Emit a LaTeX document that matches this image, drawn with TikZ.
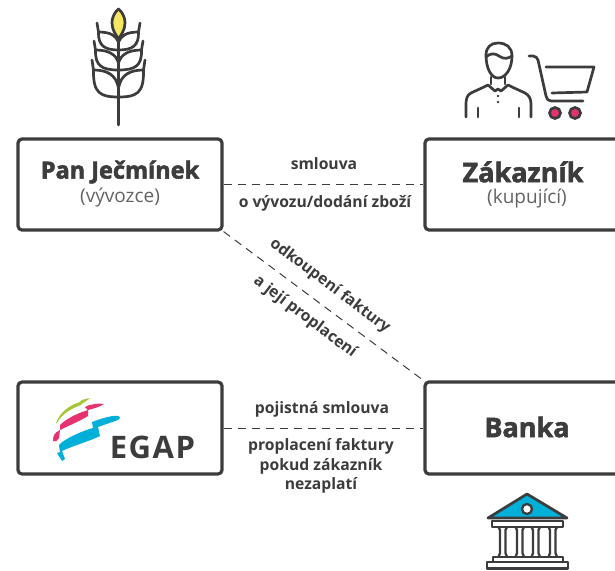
\documentclass[tikz,border=0pt]{standalone}
\usepackage{fontspec}
\setmainfont{Open Sans}
\newcommand{\heavy}[1]{\special{pdf:code 2 Tr 0.55 w 0.235 0.235 0.235 RG}#1\special{pdf:code 0 Tr}}
\definecolor{ink}{HTML}{3C3C3C}
\definecolor{wheatY}{HTML}{F5E663}
\definecolor{cartP}{HTML}{E6326E}
\definecolor{bankC}{HTML}{00B0D8}
\definecolor{logoG}{HTML}{A4C639}
\tikzset{
  box/.style={draw=ink,line width=3.2pt,rounded corners=4pt,inner sep=0pt,fill=white},
  dashline/.style={draw=ink,line width=1pt,dash pattern=on 8pt off 6pt},
  lbl/.style={text=ink,font=\fontsize{15.7}{17}\selectfont\bfseries,inner sep=0pt,align=center},
  ttl/.style={text=ink,font=\fontsize{23.5}{26}\selectfont\bfseries,inner sep=0pt},
  sub/.style={text=ink!80,font=\fontsize{19}{21}\selectfont,inner sep=0pt},
  ico/.style={draw=ink,line width=2.7pt,line cap=round,line join=round}
}
\begin{document}
\begin{tikzpicture}[x=1pt,y=-1pt]
\useasboundingbox (0,0) rectangle (615,570);
\clip (0,0) rectangle (615,570);
% boxes
\node[box,minimum width=204pt,minimum height=91pt] (pan) at (120,184.5) {};
\node[box,minimum width=204pt,minimum height=91pt] (zak) at (527,184.5) {};
\node[box,minimum width=204pt,minimum height=92pt] (egap) at (120,428) {};
\node[box,minimum width=204pt,minimum height=92pt] (ban) at (527,428) {};
% connectors
\draw[dashline] (pan.east) -- (zak.west);
\draw[dashline] (pan.south east) -- (ban.north west);
\draw[dashline] (egap.east) -- (ban.west);
% titles
\node[ttl] (t1) at (120,172) {\heavy{Pan Ječmínek}};
\node[sub] (s1) at (120,198) {(vývozce)};
\node[ttl,font=\fontsize{27}{30}\selectfont\bfseries] (t2) at (523,172) {\heavy{Zákazník}};
\node[sub] (s2) at (527,199) {(kupující)};
\node[ttl,font=\fontsize{27}{30}\selectfont\bfseries] (t3) at (527,427) {\heavy{Banka}};
% labels
\node[lbl] (l1) at (324,164) {smlouva};
\node[lbl] (l2) at (325,203) {o vývozu/dodání zboží};
\node[lbl] (l3) at (330,286) [rotate=-37] {odkoupení faktury};
\node[lbl] (l4) at (305,317) [rotate=-37] {a její proplacení};
\node[lbl] (l5) at (322,409) {pojistná smlouva};
\node[lbl,font=\fontsize{15.7}{19.5}\selectfont\bfseries] (l6) at (321,466) {proplacení faktury\\pokud zákazník\\nezaplatí};
% wheat
\draw[ico,fill=wheatY] (118.5,9) .. controls (113,14) and (112,19) .. (112,23) .. controls (112,30) and (116,35) .. (118.5,39) .. controls (121,35) and (125,30) .. (125,23) .. controls (125,19) and (124,14) .. (118.5,9) -- cycle;
\draw[ico] (118.5,39) -- (118.5,125);
\foreach \ty/\tx/\upy/\loy/\by in {23/97/32/42/50,41/94/50/63/70,60/92/70/88/97}{
  \draw[ico] (\tx,\ty) -- (\tx+1.5,\upy) .. controls (\tx+1,\by-4) and (\tx+8,\by) .. (118.5,\by);
  \draw[ico] (\tx+1.5,\upy) .. controls (\tx+14,\upy) and (116,\upy+4) .. (118.5,\loy);
  \draw[ico] (237-\tx,\ty) -- (235.5-\tx,\upy) .. controls (236-\tx,\by-4) and (229-\tx,\by) .. (118.5,\by);
  \draw[ico] (235.5-\tx,\upy) .. controls (223-\tx,\upy) and (121,\upy+4) .. (118.5,\loy);
}
% person
\draw[ico] (486,55) .. controls (486,47) and (491,43) .. (498,43) .. controls (506,43) and (512,47) .. (512,56) .. controls (512,68) and (506,78) .. (498,78) .. controls (491,78) and (486,68) .. (486,55) -- cycle;
\draw[ico] (486,57) .. controls (490,53) and (495,53) .. (499,56) .. controls (504,60) and (509,58) .. (512,56);
\draw[ico] (491,77) -- (491,84) (505,77) -- (505,84);
\draw[ico] (488,85) -- (495,91) -- (498,89) -- (501,91) -- (508,85);
\draw[ico] (488,85) .. controls (480,89) and (475,91) .. (471,93) .. controls (467,95) and (466,99) .. (466,104) -- (466,117);
\draw[ico] (508,85) .. controls (516,89) and (521,91) .. (525,93) .. controls (529,95) and (531,99) .. (531,104) -- (531,117);
\draw[ico] (478,108) -- (478,117) (519,108) -- (519,117);
\fill[ink] (498,96) circle (1.3) (498,102) circle (1.3);
% cart
\draw[ico] (529,56) -- (533,56) .. controls (536,56) and (537,58) .. (538,60) -- (546,96) .. controls (547,99) and (548,101) .. (551,101) -- (583,101);
\draw[ico] (546,67) -- (594,67) -- (587,92) -- (552,93);
\draw[ink,line width=2.7pt,fill=cartP] (555,113) circle (5.5);
\draw[ink,line width=2.7pt,fill=cartP] (575,113) circle (5.5);
% bank
\draw[ico,fill=bankC] (527,494) -- (488,518) -- (567,518) -- cycle;
\draw[ink,line width=2.3pt,fill=white] (527,509) circle (5);
\draw[ico,fill=white,line width=2.3pt] (492,521) rectangle (563,527);
\foreach \cx in {503,520,536,553}{
  \draw[ico,line width=2.3pt] (\cx-4.5,527) -- (\cx-3,530) -- (\cx-3,553) -- (\cx-4.5,557) (\cx+4,527) -- (\cx+2.5,530) -- (\cx+2.5,553) -- (\cx+4,557);
}
\draw[ico,line width=2.3pt,fill=white] (493,557) rectangle (563,562);
\draw[ico,line width=2.3pt,fill=white] (487,562) rectangle (568,568.5);
% EGAP logo
\fill[logoG] (56,423) .. controls (60,412) and (70,405) .. (80,402) .. controls (80,400) and (85,399) .. (90,398) .. controls (86,402) and (82,403) .. (81,405) .. controls (70,409) and (62,414) .. (57,423) -- cycle;
\fill[cartP] (53,441) .. controls (53,436) and (54,433) .. (60,430) -- (60,425) .. controls (65,420) and (75,414) .. (88,410) -- (85,407) .. controls (90,404) and (100,403) .. (104,404) .. controls (100,407) and (92,409) .. (88,410) -- (88,416) .. controls (80,421) and (70,425) .. (60,430) -- (59,438) .. controls (57,441) and (55,443) .. (53,441) -- cycle;
\fill[bankC] (57,453) -- (60,452) -- (59,445) .. controls (65,438) and (85,430) .. (93,428) -- (92,422) .. controls (105,417) and (115,415) .. (118,416) .. controls (121,417) and (120,419) .. (118,420) -- (98,427) -- (100,436) .. controls (90,441) and (75,445) .. (62,451) -- (65,459) -- (62,461) -- cycle;
\node[text=ink,font=\fontsize{31}{32}\selectfont\bfseries,inner sep=0pt,anchor=center] (eg) at (152.5,447.5) {\addfontfeatures{LetterSpace=5}EGAP};
\end{tikzpicture}
\end{document}
